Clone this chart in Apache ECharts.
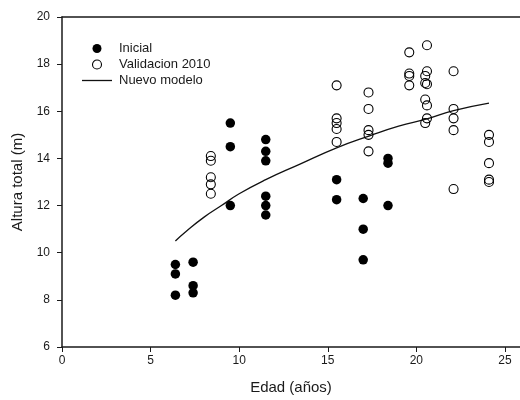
<!DOCTYPE html>
<html>
<head>
<meta charset="utf-8">
<script src="https://cdn.jsdelivr.net/npm/echarts@6/dist/echarts.min.js"></script>
<style>
  html, body { margin: 0; padding: 0; background: #fff; }
  #chart { width: 520px; height: 400px; }
</style>
</head>
<body>
<div id="chart"></div>
<script>
// Initial measurements: age (years) and total height (m)
const inicialEdad   = [6.4, 6.4, 6.4, 7.4, 7.4, 7.4, 9.5, 9.5, 9.5, 11.5, 11.5, 11.5, 11.5, 11.5, 11.5, 15.5, 15.5, 17.0, 17.0, 17.0, 18.4, 18.4, 18.4];
const inicialAltura = [9.5, 9.1, 8.2, 9.6, 8.6, 8.3, 15.5, 14.5, 12.0, 14.8, 14.3, 13.9, 12.4, 12.0, 11.6, 13.1, 12.25, 12.3, 11.0, 9.7, 14.0, 13.8, 12.0];

// 2010 validation measurements
const validEdad   = [8.4, 8.4, 8.4, 8.4, 8.4, 15.5, 15.5, 15.5, 15.5, 15.5, 17.3, 17.3, 17.3, 17.3, 17.3, 19.6, 19.6, 19.6, 19.6, 20.6, 20.6, 20.5, 20.5, 20.6, 20.5, 20.6, 20.6, 20.5, 22.1, 22.1, 22.1, 22.1, 22.1, 24.1, 24.1, 24.1, 24.1, 24.1];
const validAltura = [14.1, 13.9, 13.2, 12.9, 12.5, 17.1, 15.7, 15.5, 15.25, 14.7, 16.8, 16.1, 15.2, 15.0, 14.3, 18.5, 17.6, 17.5, 17.1, 18.8, 17.7, 17.5, 17.2, 17.15, 16.5, 16.25, 15.7, 15.5, 17.7, 16.1, 15.7, 15.2, 12.7, 15.0, 14.7, 13.8, 13.1, 13.0];

// New model curve, sampled along its length
const modeloEdad   = [6.4, 7.0, 8.0, 9.0, 10.0, 11.5, 13.4, 15.5, 17.4, 19.0, 20.6, 22.1, 24.1];
const modeloAltura = [10.5, 10.9, 11.5, 12.0, 12.5, 13.1, 13.75, 14.45, 14.97, 15.37, 15.68, 16.03, 16.35];

const xTicks = [0, 5, 10, 15, 20, 25];

const pairs = (xs, ys) => xs.map((x, i) => [x, ys[i]]);

const font = 'Liberation Sans, Arial, sans-serif';
const ink = '#1a1a1a';
const chart = echarts.init(document.getElementById('chart'));

chart.setOption({
  animation: false,
  backgroundColor: '#fff',
  textStyle: { fontFamily: font },
  grid: { left: 62, right: 0, top: 17, bottom: 52, containLabel: false },
  legend: {
    orient: 'vertical',
    left: 77,
    top: 37,
    itemWidth: 30,
    itemHeight: 9,
    itemGap: 3,
    textStyle: { fontFamily: font, fontSize: 13, color: ink, padding: [0, 0, 0, 2] },
    data: [
      { name: 'Inicial', icon: 'circle' },
      { name: 'Validacion 2010', icon: 'circle', itemStyle: { borderWidth: 1.1 } },
      { name: 'Nuevo modelo', icon: 'path://M0,0H30V1.3H0Z' }
    ]
  },
  xAxis: [{
    type: 'value',
    min: 0,
    max: 25.85,
    name: 'Edad (años)',
    nameLocation: 'middle',
    nameGap: 33,
    nameTextStyle: { fontFamily: font, fontSize: 15, color: ink },
    axisLine: { show: true, onZero: false, lineStyle: { color: ink, width: 1.5 } },
    axisTick: { show: true, inside: false, length: 5, customValues: xTicks, lineStyle: { color: ink } },
    axisLabel: { customValues: xTicks, margin: 8, fontSize: 12, color: ink, fontFamily: font },
    splitLine: { show: false }
  }, {
    type: 'value',
    position: 'top',
    min: 0,
    max: 25.85,
    axisLine: { show: true, lineStyle: { color: ink, width: 1.5 } },
    axisTick: { show: false },
    axisLabel: { show: false },
    splitLine: { show: false }
  }],
  yAxis: {
    type: 'value',
    min: 6,
    max: 20,
    interval: 2,
    name: 'Altura total (m)',
    nameLocation: 'middle',
    nameRotate: 90,
    nameGap: 32,
    nameTextStyle: { fontFamily: font, fontSize: 15, color: ink },
    axisLine: { show: true, onZero: false, lineStyle: { color: ink, width: 1.5 } },
    axisTick: { show: true, inside: false, length: 5, lineStyle: { color: ink } },
    axisLabel: { margin: 12, fontSize: 12, color: ink, fontFamily: font },
    splitLine: { show: false }
  },
  series: [
    {
      name: 'Inicial',
      type: 'scatter',
      symbol: 'circle',
      symbolSize: 9.5,
      itemStyle: { color: '#000', opacity: 1 },
      data: pairs(inicialEdad, inicialAltura),
      z: 3
    },
    {
      name: 'Validacion 2010',
      type: 'scatter',
      symbol: 'circle',
      symbolSize: 9,
      itemStyle: { color: 'rgba(255,255,255,0)', borderColor: '#000', borderWidth: 1.1, opacity: 1 },
      data: pairs(validEdad, validAltura),
      z: 3
    },
    {
      name: 'Nuevo modelo',
      type: 'line',
      smooth: true,
      symbol: 'none',
      lineStyle: { color: '#111', width: 1.3 },
      itemStyle: { color: '#111' },
      data: pairs(modeloEdad, modeloAltura),
      z: 2
    }
  ]
});
</script>
</body>
</html>
